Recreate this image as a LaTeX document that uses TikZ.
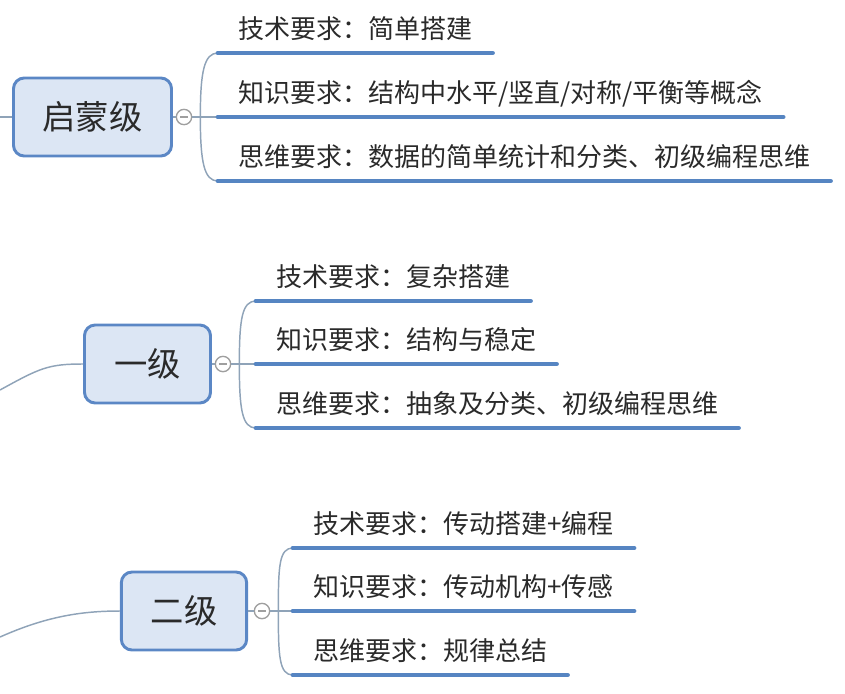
\documentclass[tikz,border=0pt]{standalone}
\usepackage{fontspec}
\newfontfamily\cjk{Noto Sans CJK SC}
\definecolor{boxfill}{HTML}{DCE6F4}
\definecolor{boxline}{HTML}{5B87C5}
\definecolor{barblue}{HTML}{5685C2}
\definecolor{linkgray}{HTML}{8FA3B8}
\definecolor{txtgray}{HTML}{2A2A2A}
\tikzset{
  levelbox/.style={draw=boxline, line width=2.2pt, fill=boxfill, rounded corners=8pt,
    text=txtgray, font=\cjk\fontsize{25}{30}\selectfont, minimum height=58.5pt},
  toggle/.style={circle, draw=gray!75, line width=1pt, fill=white,
    minimum size=11.5pt, inner sep=0pt},
  leaf/.style={anchor=south west, inner xsep=15pt, inner ysep=11pt, text depth=0pt,
    text=txtgray, font=\cjk\fontsize{19.5}{22}\selectfont},
  bar/.style={draw=barblue, line width=3.6pt, line cap=round},
  link/.style={draw=linkgray, line width=1.1pt}
}
\begin{document}
\begin{tikzpicture}[x=0.75pt,y=-0.75pt]
\useasboundingbox (0,0) rectangle (845,693);

% 启蒙级
\coordinate (in0) at (0,117);
\node[levelbox, minimum width=118.5pt] (l0) at (92.5,117) {启蒙级};
\node[toggle] (t0) at (184,117) {};
\draw[gray!75, line width=1pt] ([xshift=-2.8pt]t0.center) -- ([xshift=2.8pt]t0.center);
\draw[link] (in0) -- (l0.west);
\draw[link] (l0.east) -- (t0.west);

\node[leaf] (k01) at (218,53) {技术要求：简单搭建};
\node[leaf] (k02) at (218,117) {知识要求：结构中水平/竖直/对称/平衡等概念};
\node[leaf] (k03) at (218,181) {思维要求：数据的简单统计和分类、初级编程思维};

\draw[link] (t0.east) -- ++(8,0) coordinate (f0);
\draw[link] (f0) -- (k02.south west);
\draw[link] (f0) .. controls +(0,-45) and +(-14,0) .. (k01.south west);
\draw[link] (f0) .. controls +(0,45) and +(-14,0) .. (k03.south west);
\draw[bar] (k01.south west) -- (k01.south east);
\draw[bar] (k02.south west) -- (k02.south east);
\draw[bar] (k03.south west) -- (k03.south east);

% 一级
\coordinate (in1) at (0,390);
\node[levelbox, minimum width=94.5pt] (l1) at (147.5,364) {一级};
\node[toggle] (t1) at (223,364) {};
\draw[gray!75, line width=1pt] ([xshift=-2.8pt]t1.center) -- ([xshift=2.8pt]t1.center);
\draw[link] (in1) .. controls +(40,-22) and +(-35,0) .. (l1.west);
\draw[link] (l1.east) -- (t1.west);

\node[leaf] (k11) at (256,301) {技术要求：复杂搭建};
\node[leaf] (k12) at (256,364) {知识要求：结构与稳定};
\node[leaf] (k13) at (256,428) {思维要求：抽象及分类、初级编程思维};

\draw[link] (t1.east) -- ++(8,0) coordinate (f1);
\draw[link] (f1) -- (k12.south west);
\draw[link] (f1) .. controls +(0,-45) and +(-14,0) .. (k11.south west);
\draw[link] (f1) .. controls +(0,45) and +(-14,0) .. (k13.south west);
\draw[bar] (k11.south west) -- (k11.south east);
\draw[bar] (k12.south west) -- (k12.south east);
\draw[bar] (k13.south west) -- (k13.south east);

% 二级
\coordinate (in2) at (0,637);
\node[levelbox, minimum width=94pt] (l2) at (184,611) {二级};
\node[toggle] (t2) at (262,611) {};
\draw[gray!75, line width=1pt] ([xshift=-2.8pt]t2.center) -- ([xshift=2.8pt]t2.center);
\draw[link] (in2) .. controls +(45,-20) and +(-40,0) .. (l2.west);
\draw[link] (l2.east) -- (t2.west);

\node[leaf] (k21) at (293,548) {技术要求：传动搭建+编程};
\node[leaf] (k22) at (293,611) {知识要求：传动机构+传感};
\node[leaf] (k23) at (293,675) {思维要求：规律总结};

\draw[link] (t2.east) -- ++(8,0) coordinate (f2);
\draw[link] (f2) -- (k22.south west);
\draw[link] (f2) .. controls +(0,-45) and +(-14,0) .. (k21.south west);
\draw[link] (f2) .. controls +(0,45) and +(-14,0) .. (k23.south west);
\draw[bar] (k21.south west) -- (k21.south east);
\draw[bar] (k22.south west) -- (k22.south east);
\draw[bar] (k23.south west) -- (k23.south east);
\end{tikzpicture}
\end{document}
